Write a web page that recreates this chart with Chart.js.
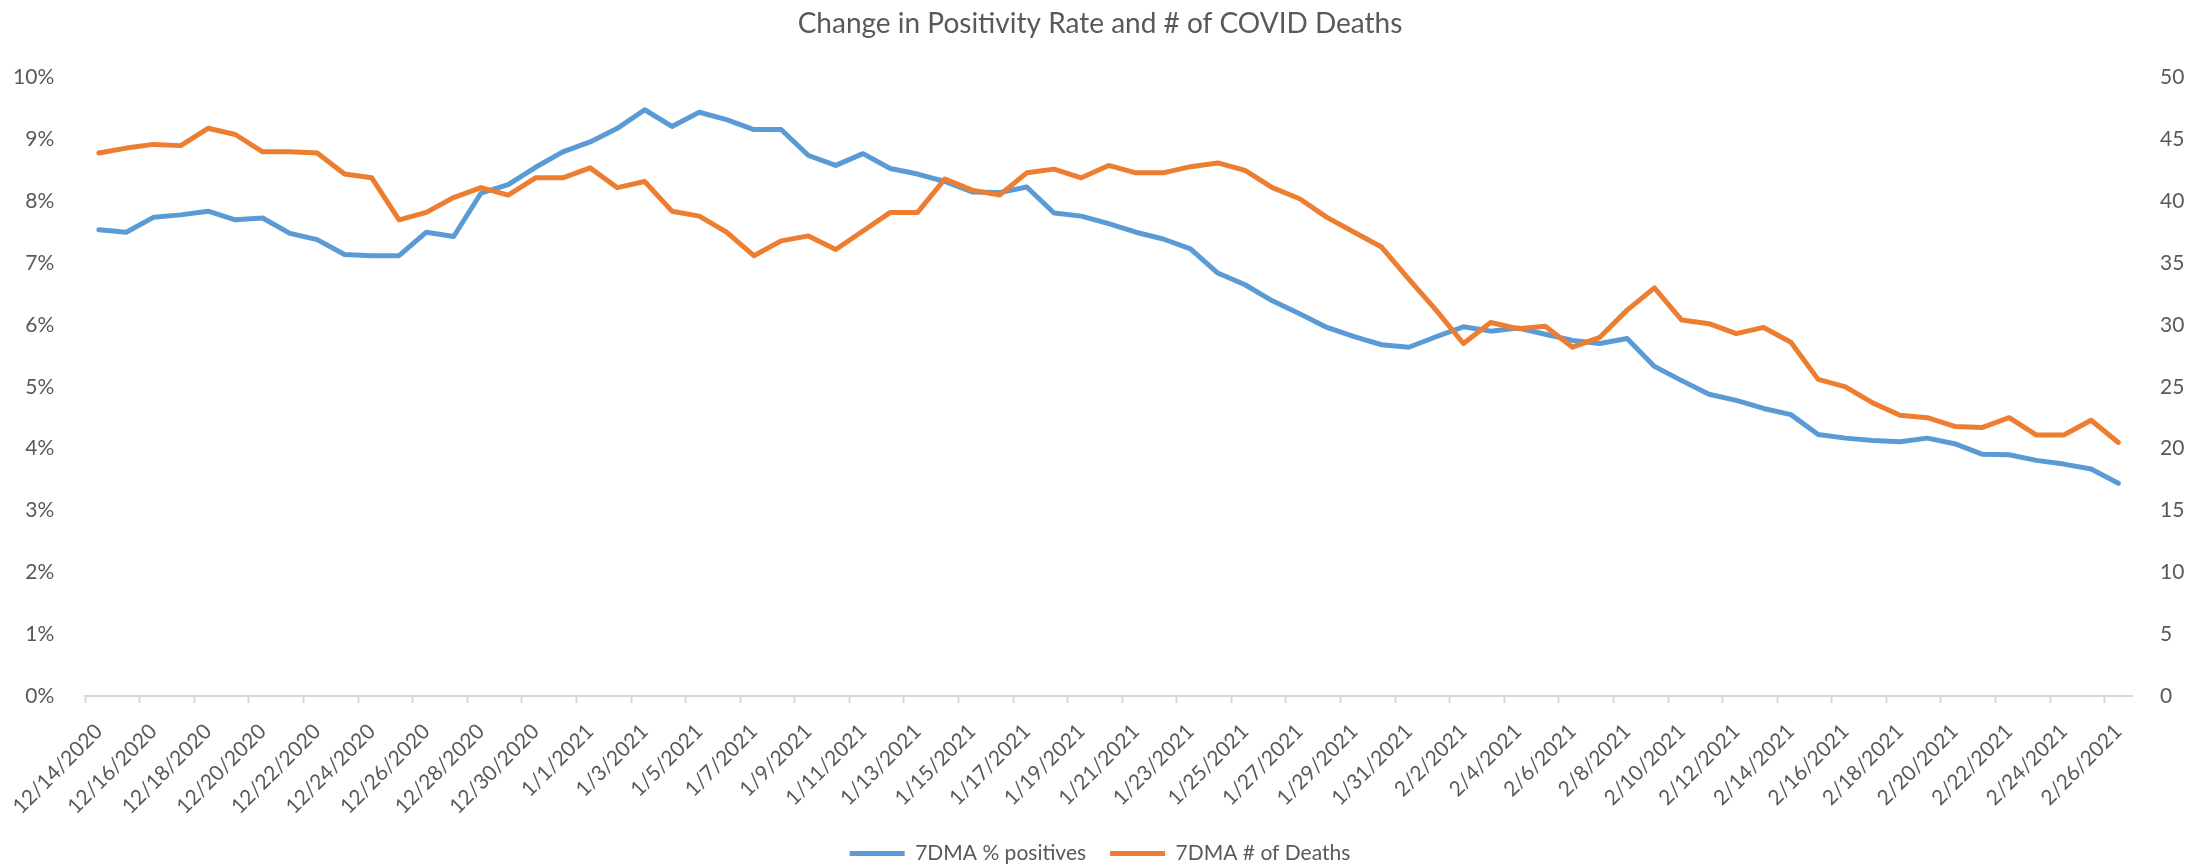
<!DOCTYPE html>
<html>
<head>
<meta charset="utf-8">
<script src="https://cdn.jsdelivr.net/npm/chart.js@4.4.1/dist/chart.umd.min.js"></script>
<style>
  html, body { margin: 0; padding: 0; background: #fff; }
  #wrap { width: 2200px; height: 867px; position: relative; }
</style>
</head>
<body>
<div id="wrap"><canvas id="covidChart"></canvas></div>
<script>
// dates (one per day)
const dates = [
  '12/14/2020','12/15/2020','12/16/2020','12/17/2020','12/18/2020','12/19/2020','12/20/2020','12/21/2020','12/22/2020','12/23/2020',
  '12/24/2020','12/25/2020','12/26/2020','12/27/2020','12/28/2020','12/29/2020','12/30/2020','12/31/2020','1/1/2021','1/2/2021',
  '1/3/2021','1/4/2021','1/5/2021','1/6/2021','1/7/2021','1/8/2021','1/9/2021','1/10/2021','1/11/2021','1/12/2021',
  '1/13/2021','1/14/2021','1/15/2021','1/16/2021','1/17/2021','1/18/2021','1/19/2021','1/20/2021','1/21/2021','1/22/2021',
  '1/23/2021','1/24/2021','1/25/2021','1/26/2021','1/27/2021','1/28/2021','1/29/2021','1/30/2021','1/31/2021','2/1/2021',
  '2/2/2021','2/3/2021','2/4/2021','2/5/2021','2/6/2021','2/7/2021','2/8/2021','2/9/2021','2/10/2021','2/11/2021',
  '2/12/2021','2/13/2021','2/14/2021','2/15/2021','2/16/2021','2/17/2021','2/18/2021','2/19/2021','2/20/2021','2/21/2021',
  '2/22/2021','2/23/2021','2/24/2021','2/25/2021','2/26/2021'
];

// 7DMA % positives (left axis, percent)
const positives = [
  7.54, 7.50, 7.74, 7.78, 7.84, 7.70, 7.73, 7.48, 7.38, 7.14,
  7.12, 7.12, 7.50, 7.43, 8.13, 8.27, 8.55, 8.80, 8.96, 9.18,
  9.48, 9.21, 9.44, 9.32, 9.16, 9.16, 8.74, 8.58, 8.77, 8.53,
  8.44, 8.32, 8.15, 8.14, 8.23, 7.81, 7.76, 7.64, 7.50, 7.39,
  7.23, 6.84, 6.65, 6.39, 6.18, 5.96, 5.81, 5.68, 5.64, 5.81,
  5.97, 5.90, 5.95, 5.85, 5.75, 5.70, 5.78, 5.33, 5.10, 4.88,
  4.78, 4.65, 4.55, 4.23, 4.17, 4.13, 4.11, 4.17, 4.08, 3.91,
  3.90, 3.81, 3.75, 3.67, 3.44
];

// 7DMA # of deaths (right axis)
const deaths = [
  43.9, 44.3, 44.6, 44.5, 45.9, 45.4, 44.0, 44.0, 43.9, 42.2,
  41.9, 38.5, 39.1, 40.3, 41.1, 40.5, 41.9, 41.9, 42.7, 41.1,
  41.6, 39.2, 38.8, 37.5, 35.6, 36.8, 37.2, 36.1, 37.6, 39.1,
  39.1, 41.8, 40.9, 40.5, 42.3, 42.6, 41.9, 42.9, 42.3, 42.3,
  42.8, 43.1, 42.5, 41.1, 40.2, 38.7, 37.5, 36.3, 33.7, 31.2,
  28.5, 30.2, 29.7, 29.9, 28.2, 29.0, 31.2, 33.0, 30.4, 30.1,
  29.3, 29.8, 28.6, 25.6, 25.0, 23.7, 22.7, 22.5, 21.8, 21.7,
  22.5, 21.1, 21.1, 22.3, 20.5
];

const textColor = '#595959';
const axisColor = '#d9d9d9';
const fontFamily = 'Lato, "Open Sans", sans-serif';

const ctx = document.getElementById('covidChart').getContext('2d');

new Chart(ctx, {
  type: 'line',
  data: {
    labels: dates,
    datasets: [
      {
        label: '7DMA % positives',
        data: positives,
        yAxisID: 'y',
        borderColor: '#5b9bd5',
        backgroundColor: '#5b9bd5',
        borderWidth: 5,
        pointRadius: 0,
        borderJoinStyle: 'round',
        borderCapStyle: 'round',
        tension: 0,
        order: 1
      },
      {
        label: '7DMA # of Deaths',
        data: deaths,
        yAxisID: 'y1',
        borderColor: '#ed7d31',
        backgroundColor: '#ed7d31',
        borderWidth: 5,
        pointRadius: 0,
        borderJoinStyle: 'round',
        borderCapStyle: 'round',
        tension: 0,
        order: 0 // orange drawn on top, like the original
      }
    ]
  },
  options: {
    responsive: true,
    maintainAspectRatio: false,
    animation: false,
    layout: {
      padding: { top: 0, left: 0, right: 0, bottom: -7 }
    },
    plugins: {
      title: {
        display: true,
        text: 'Change in Positivity Rate and # of COVID Deaths',
        color: textColor,
        font: { family: fontFamily, size: 28, weight: 'normal' },
        padding: { top: 7, bottom: 37 }
      },
      legend: {
        position: 'bottom',
        labels: {
          color: textColor,
          font: { family: fontFamily, size: 21 },
          usePointStyle: true,
          pointStyle: 'line',
          pointStyleWidth: 55,
          padding: 24,
          sort: (a, b) => a.datasetIndex - b.datasetIndex
        }
      },
      tooltip: { enabled: false }
    },
    scales: {
      x: {
        offset: true,
        grid: {
          offset: true,
          drawOnChartArea: false,
          drawTicks: true,
          tickLength: 7,
          tickWidth: 2,
          tickColor: (c) => (c.index % 2 === 0 ? axisColor : 'rgba(0,0,0,0)')
        },
        border: { display: true, color: axisColor, width: 2 },
        ticks: {
          autoSkip: false,
          minRotation: 45,
          maxRotation: 45,
          padding: 16,
          color: textColor,
          font: { family: fontFamily, size: 21 },
          callback: function(value, index) {
            return index % 2 === 0 ? this.getLabelForValue(value) : '';
          }
        },
        afterFit: (scale) => { scale.height = 123; }
      },
      y: {
        position: 'left',
        min: 0,
        max: 10,
        grid: { display: false },
        border: { display: false },
        ticks: {
          stepSize: 1,
          padding: 23,
          color: textColor,
          font: { family: fontFamily, size: 21 },
          callback: (v) => v + '%'
        },
        afterFit: (scale) => { scale.width = 82; }
      },
      y1: {
        position: 'right',
        min: 0,
        max: 50,
        grid: { display: false },
        border: { display: false },
        ticks: {
          stepSize: 5,
          padding: 20,
          color: textColor,
          font: { family: fontFamily, size: 21 }
        },
        afterFit: (scale) => { scale.width = 68; }
      }
    }
  }
});
</script>
</body>
</html>
